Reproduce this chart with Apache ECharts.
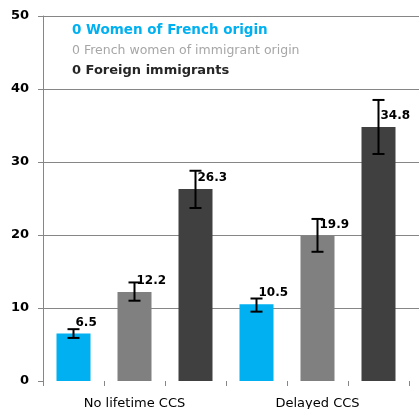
<!DOCTYPE html>
<html>
<head>
<meta charset="utf-8">
<script src="https://cdn.jsdelivr.net/npm/echarts@6/dist/echarts.min.js"></script>
<style>
  html, body { margin: 0; padding: 0; background: #fff; }
  #chart { width: 419px; height: 409px; }
</style>
</head>
<body>
<div id="chart"></div>
<script>
// ── data ─────────────────────────────────────────────
const groups = ['No lifetime CCS', 'Delayed CCS'];
const seriesNames = ['Women of French origin', 'French women of immigrant origin', 'Foreign immigrants'];
const frenchOrigin = [6.5, 10.5];
const frenchImmigrantOrigin = [12.2, 19.9];
const foreignImmigrants = [26.3, 34.8];
// 95% CI bounds, per series, per group
const ciLow = [[5.9, 9.5], [11.0, 17.7], [23.7, 31.1]];
const ciHigh = [[7.1, 11.3], [13.5, 22.2], [28.8, 38.5]];
const yTicks = [0, 10, 20, 30, 40, 50];

// ── styles ───────────────────────────────────────────
const barColors = ['#00b0f0', '#808080', '#404040'];
const legendColors = ['#00b0f0', '#a6a6a6', '#262626'];
const legendSizes = [13.5, 12.5, 13];
const gridColor = '#868686';
const FONT = 'DejaVu Sans';

// one slot per bar (3 per group) + one empty slot so the grid runs past the edge
const values = [frenchOrigin, frenchImmigrantOrigin, foreignImmigrants];
const nSlots = groups.length * seriesNames.length + 1;
const slots = Array.from({ length: nSlots }, (_, i) => {
  const g = Math.floor(i / 3);
  return (i % 3 === 1 && g < groups.length) ? groups[g] : '';
});
const slotOf = (g, s) => g * seriesNames.length + s;

const barSeries = seriesNames.map((name, s) => {
  const data = slots.map(() => '-');
  values[s].forEach((v, g) => { data[slotOf(g, s)] = v; });
  return {
    name,
    type: 'bar',
    data,
    barWidth: 34,
    barGap: '-100%',
    itemStyle: { color: barColors[s] },
    label: {
      show: true,
      position: [19, -11],
      align: 'left',
      verticalAlign: 'middle',
      color: '#000',
      fontFamily: FONT,
      fontWeight: 'bold',
      fontSize: 12,
      formatter: p => Number(p.value).toFixed(1),
    },
    z: 2,
  };
});

const errData = [];
seriesNames.forEach((_, s) => {
  groups.forEach((__, g) => errData.push([slotOf(g, s), ciLow[s][g], ciHigh[s][g]]));
});

const errSeries = {
  type: 'custom',
  data: errData,
  z: 3,
  silent: true,
  renderItem(params, api) {
    const lo = api.coord([api.value(0), api.value(1)]);
    const hi = api.coord([api.value(0), api.value(2)]);
    const x = lo[0];
    const hw = 6;
    const style = { stroke: '#000', lineWidth: 2 };
    return {
      type: 'group',
      children: [
        { type: 'line', shape: { x1: x, y1: hi[1], x2: x, y2: lo[1] }, style },
        { type: 'line', shape: { x1: x - hw, y1: hi[1], x2: x + hw, y2: hi[1] }, style },
        { type: 'line', shape: { x1: x - hw, y1: lo[1], x2: x + hw, y2: lo[1] }, style },
      ],
    };
  },
};

const chart = echarts.init(document.getElementById('chart'), null, { renderer: 'canvas' });
chart.setOption({
  backgroundColor: '#fff',
  animation: false,
  grid: { left: 43, top: 16, width: 427, height: 365, containLabel: false, outerBoundsMode: 'none' },
  legend: {
    orient: 'vertical',
    left: 62,
    top: 18,
    icon: 'none',
    itemWidth: 0,
    itemHeight: 10,
    itemGap: 7,
    selectedMode: false,
    formatter: name => '0 ' + name,
    textStyle: { fontFamily: FONT, fontSize: 13 },
    data: seriesNames.map((name, i) => ({
      name,
      textStyle: {
        color: legendColors[i],
        fontSize: legendSizes[i],
        fontWeight: i === 1 ? 'normal' : 'bold',
      },
    })),
  },
  xAxis: {
    type: 'category',
    data: slots,
    boundaryGap: true,
    axisLine: { show: false },
    axisTick: { show: true, interval: 0, length: 5, lineStyle: { color: gridColor } },
    axisLabel: { interval: 0, color: '#000', fontFamily: FONT, fontSize: 13, margin: 16 },
    splitLine: { show: false },
  },
  yAxis: {
    type: 'value',
    min: yTicks[0],
    max: yTicks[yTicks.length - 1],
    interval: yTicks[1] - yTicks[0],
    axisLine: { show: true, lineStyle: { color: gridColor } },
    axisTick: { show: true, length: 5, lineStyle: { color: gridColor } },
    splitLine: { show: true, showMinLine: false, lineStyle: { color: gridColor } },
    axisLabel: { color: '#000', fontFamily: FONT, fontWeight: 'bold', fontSize: 13, margin: 14 },
  },
  series: [...barSeries, errSeries],
});
</script>
</body>
</html>
